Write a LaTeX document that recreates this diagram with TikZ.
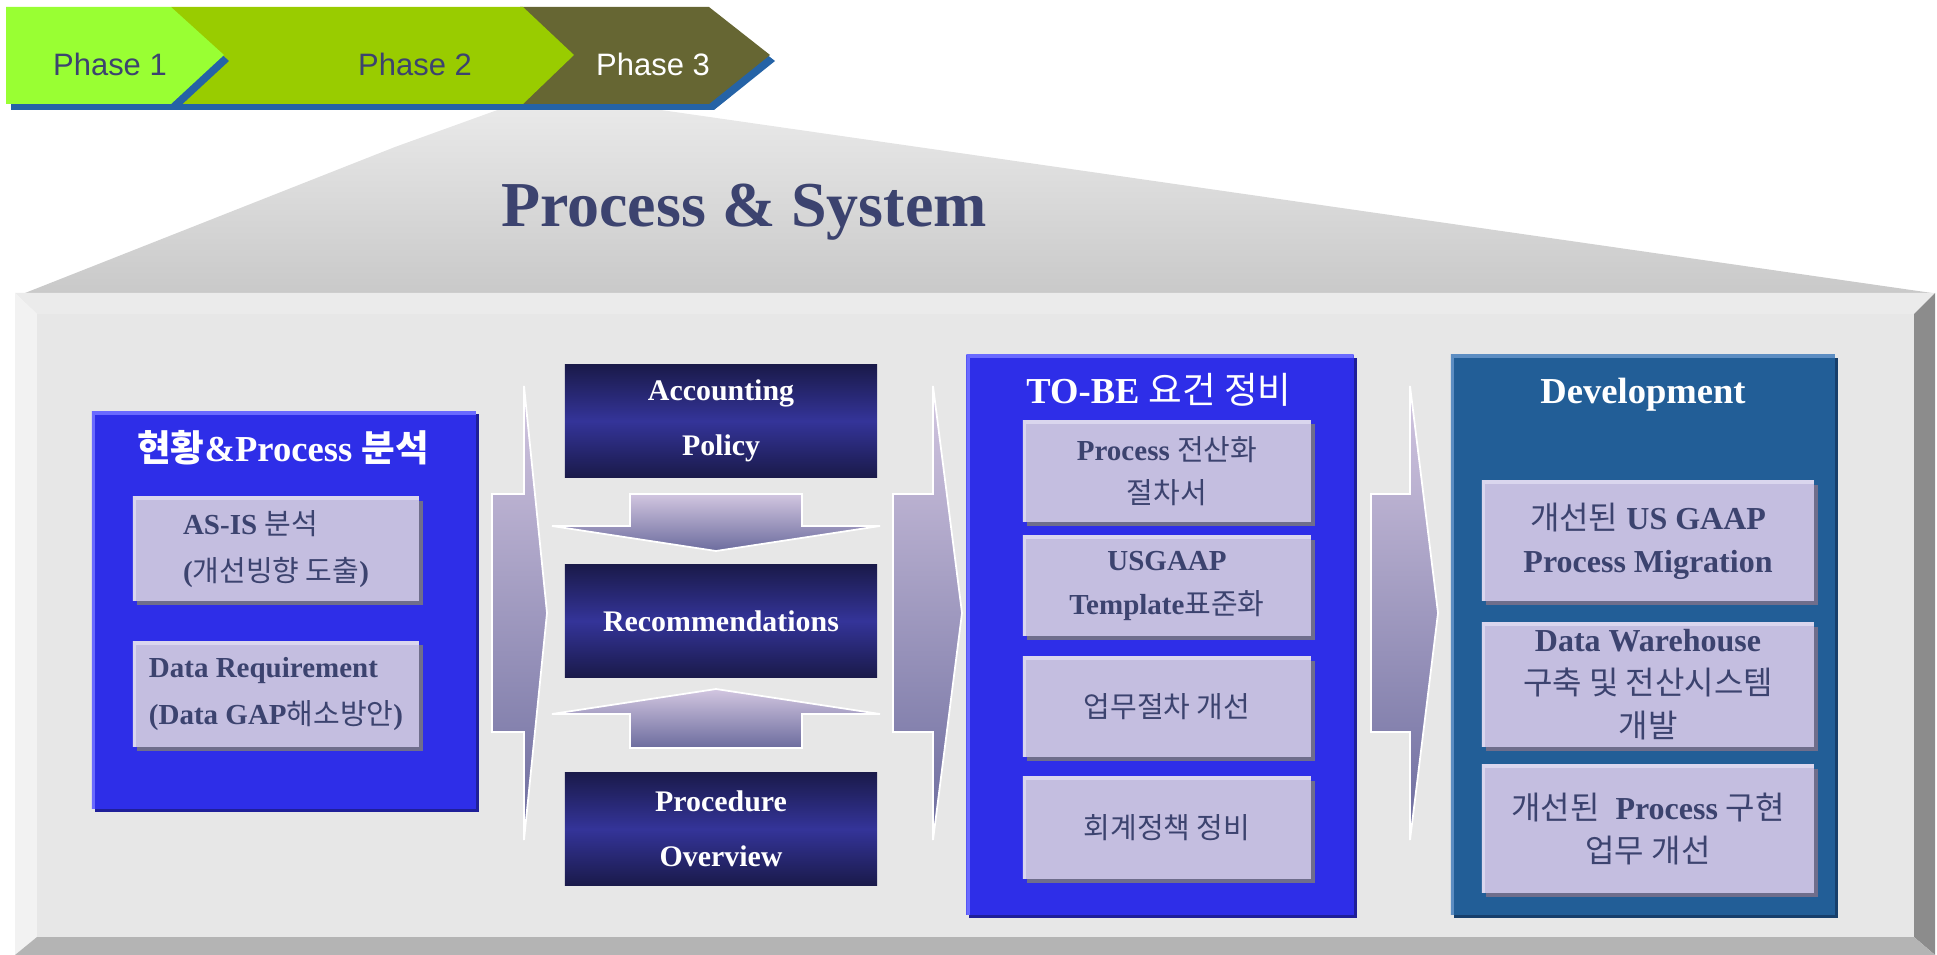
\documentclass[tikz,border=0pt]{standalone}
\usepackage{fontspec}
\setmainfont{Liberation Serif}
\newfontfamily\krfont{Noto Sans CJK KR}
\newfontfamily\phasefont{Liberation Sans}
\usetikzlibrary{shadows}
\definecolor{phaseOne}{HTML}{99FF33}
\definecolor{phaseTwo}{HTML}{99CC00}
\definecolor{phaseThree}{HTML}{666633}
\definecolor{phaseShadow}{HTML}{2563A6}
\definecolor{roofTop}{HTML}{E9E9E9}
\definecolor{roofBot}{HTML}{C9C9C9}
\definecolor{bevelTop}{HTML}{EBEBEB}
\definecolor{bevelLeft}{HTML}{F2F2F2}
\definecolor{bevelRight}{HTML}{8C8C8C}
\definecolor{bevelBottom}{HTML}{B4B4B4}
\definecolor{faceGray}{HTML}{E7E7E7}
\definecolor{stageBlue}{HTML}{2E2EE8}
\definecolor{stageLight}{HTML}{6A6AFF}
\definecolor{stageDark}{HTML}{1F1F99}
\definecolor{devBlue}{HTML}{225E97}
\definecolor{devLight}{HTML}{5C8DC2}
\definecolor{devDark}{HTML}{173F6B}
\definecolor{itemFill}{HTML}{C4BEE0}
\definecolor{itemLight}{HTML}{DAD6EE}
\definecolor{itemShadow}{HTML}{6F6E8C}
\definecolor{navyDark}{HTML}{1A1A4A}
\definecolor{navyMid}{HTML}{343499}
\definecolor{arrowTop}{HTML}{D2C6E0}
\definecolor{arrowBot}{HTML}{6C6C9E}
\definecolor{txtNavy}{HTML}{3C436F}
\newcommand\kr[1]{{\krfont\mdseries #1}}
\newcommand\krb[1]{{\krfont #1}}

\begin{document}
\begin{tikzpicture}[x=0.01cm,y=-0.01cm,
  litedge/.style={path picture={\draw[#1,line width=0.07cm] (path picture bounding box.south west) |- (path picture bounding box.north east);}},
  stagebox/.style n args={3}{fill=#1,litedge=#2,drop shadow={shadow xshift=0.03cm,shadow yshift=-0.03cm,fill=#3,opacity=1},inner sep=0pt},
  stagetitle/.style={anchor=base,text=white,font=\fontsize{10.4}{12}\selectfont\bfseries,inner sep=0pt},
  item/.style={fill=itemFill,litedge=itemLight,drop shadow={shadow xshift=0.04cm,shadow yshift=-0.04cm,fill=itemShadow,opacity=1},inner sep=0pt,text=txtNavy,align=center,font=\fontsize{8.25}{12.3}\selectfont\bfseries},
  policy/.style={top color=navyDark,bottom color=navyDark,middle color=navyMid,text=white,align=center,font=\fontsize{8.5}{15.6}\selectfont\bfseries,minimum width=3.12cm,minimum height=1.12cm,inner sep=0pt},
  fatarrow/.style={top color=arrowTop,bottom color=arrowBot,draw=white,line width=0.5pt},
  phaselabel/.style={anchor=base,font=\phasefont\fontsize{8.8}{10}\selectfont,inner sep=0pt}]
  \useasboundingbox (0,0) rectangle (1937,955);
  \shade[top color=roofTop,bottom color=roofBot] (503,108) -- (647,108) -- (1932,293) -- (25,293) -- (395,147) -- cycle;
  \fill[bevelTop] (15,293) -- (1935,293) -- (1914,314) -- (37,314) -- cycle;
  \fill[bevelLeft] (15,293) -- (37,314) -- (37,937) -- (15,955) -- cycle;
  \fill[bevelRight] (1935,293) -- (1935,955) -- (1914,937) -- (1914,314) -- cycle;
  \fill[bevelBottom] (15,955) -- (37,937) -- (1914,937) -- (1935,955) -- cycle;
  \fill[faceGray] (37,314) rectangle (1914,937);
  \fill[phaseShadow,shift={(5,6)}] (520,7) -- (709,7) -- (770,55) -- (709,104) -- (520,104) -- cycle;
  \fill[phaseShadow,shift={(5,6)}] (171,7) -- (523,7) -- (574,55) -- (523,104) -- (171,104) -- cycle;
  \fill[phaseThree] (520,7) -- (709,7) -- (770,55) -- (709,104) -- (520,104) -- cycle;
  \fill[phaseTwo] (171,7) -- (523,7) -- (574,55) -- (523,104) -- (171,104) -- cycle;
  \fill[phaseShadow,shift={(5,6)}] (6,7) -- (171,7) -- (224,55) -- (171,104) -- (6,104) -- cycle;
  \fill[phaseOne] (6,7) -- (171,7) -- (224,55) -- (171,104) -- (6,104) -- cycle;
  \node[phaselabel,text=txtNavy] (ph1) at (110,76) {Phase 1};
  \node[phaselabel,text=txtNavy] (ph2) at (415,76) {Phase 2};
  \node[phaselabel,text=white] (ph3) at (653,76) {Phase 3};
  \node[anchor=base,text=txtNavy,font=\fontsize{18.2}{20}\selectfont\bfseries,inner sep=0pt] (title) at (744,227) {Process \& System};

  \node[stagebox={stageBlue}{stageLight}{stageDark},minimum width=3.84cm,minimum height=3.97cm] (asis) at (284,610) {};
  \node[stagetitle] (asisTitle) at (283,462) {\krb{현황}\&Process \krb{분석}};
  \node[item,minimum width=2.86cm,minimum height=1.04cm,align=left,font=\fontsize{8.25}{13.4}\selectfont\bfseries] (asisA) at (276,549) {AS-IS \kr{분석}\\(\kr{개선빙향 도출})};
  \node[item,minimum width=2.86cm,minimum height=1.05cm,align=left,font=\fontsize{8.25}{13.2}\selectfont\bfseries] (asisB) at (276,694) {Data Requirement\\(Data GAP\kr{해소방안})};

  \path[fatarrow] (492,494) -- (524,494) -- (524,386) -- (547,613) -- (524,840) -- (524,732) -- (492,732) -- cycle;
  \node[policy] (acct) at (721,421) {Accounting\\Policy};
  \node[policy] (recom) at (721,621) {Recommendations};
  \node[policy,minimum height=1.13cm] (procov) at (721,829) {Procedure\\Overview};
  \path[fatarrow] (630,494) -- (802,494) -- (802,526) -- (880,526) -- (716,551) -- (552,526) -- (630,526) -- cycle;
  \path[fatarrow] (716,689) -- (880,714) -- (802,714) -- (802,748) -- (630,748) -- (630,714) -- (552,714) -- cycle;
  \path[fatarrow] (893,494) -- (933,494) -- (933,386) -- (962,613) -- (933,840) -- (933,732) -- (893,732) -- cycle;

  \node[stagebox={stageBlue}{stageLight}{stageDark},minimum width=3.87cm,minimum height=5.6cm] (toBe) at (1160,635) {};
  \node[stagetitle] (toBeTitle) at (1159,403) {TO-BE \kr{요건 정비}};
  \node[item,minimum width=2.88cm,minimum height=1.01cm] (toBeA) at (1167,471) {Process \kr{전산화}\\\kr{절차서}};
  \node[item,minimum width=2.88cm,minimum height=1cm] (toBeB) at (1167,586) {USGAAP\\Template\kr{표준화}};
  \node[item,minimum width=2.88cm,minimum height=1cm] (toBeC) at (1167,707) {\kr{업무절차 개선}};
  \node[item,minimum width=2.88cm,minimum height=1.02cm] (toBeD) at (1167,828) {\kr{회계정책 정비}};

  \path[fatarrow] (1371,494) -- (1410,494) -- (1410,386) -- (1438,613) -- (1410,840) -- (1410,732) -- (1371,732) -- cycle;

  \node[stagebox={devBlue}{devLight}{devDark},minimum width=3.84cm,minimum height=5.6cm] (dev) at (1643,635) {};
  \node[stagetitle] (devTitle) at (1643,403) {Development};
  \node[item,minimum width=3.32cm,minimum height=1.2cm,font=\fontsize{9.1}{12.2}\selectfont\bfseries] (devA) at (1648,541) {\kr{개선된} US GAAP\\Process Migration};
  \node[item,minimum width=3.32cm,minimum height=1.24cm,font=\fontsize{9.1}{12.2}\selectfont\bfseries] (devB) at (1648,685) {Data Warehouse\\\kr{구축 및 전산시스템}\\\kr{개발}};
  \node[item,minimum width=3.32cm,minimum height=1.28cm,font=\fontsize{9.1}{12.2}\selectfont\bfseries] (devC) at (1648,829) {\kr{개선된}\ \ Process \kr{구현}\\\kr{업무 개선}};
\end{tikzpicture}
\end{document}
